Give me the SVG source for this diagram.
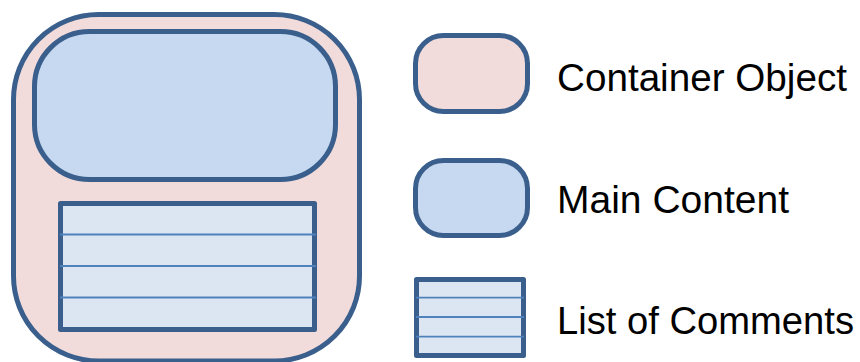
<svg xmlns="http://www.w3.org/2000/svg" width="860" height="362" viewBox="0 0 860 362">
<style>
.s{stroke:#3A5F8C;stroke-width:5;stroke-linejoin:round}
.c{fill:#F2DCDB}
.m{fill:#C6D9F1}
.l{fill:#DCE6F2}
.ln{stroke:#4F81BD;stroke-width:1.8}
.t{font-family:"Liberation Sans",Arial,sans-serif;font-size:38px;fill:#000}
</style>
<rect width="860" height="362" fill="#fff"/>
<g id="container">
<rect class="s c" x="13.5" y="14.5" width="346" height="346.5" rx="85" ry="85"/>
</g>
<g id="main-content">
<rect class="s m" x="34.5" y="31.5" width="301" height="148" rx="55" ry="55"/>
</g>
<g id="comments-list">
<rect class="s l" x="60.5" y="203.5" width="254" height="126"/>
<line class="ln" x1="60" y1="234.5" x2="316" y2="234.5"/>
<line class="ln" x1="60" y1="266" x2="316" y2="266"/>
<line class="ln" x1="60" y1="297.5" x2="316" y2="297.5"/>
</g>
<g id="legend-container">
<rect class="s c" x="415.5" y="35.5" width="112" height="76" rx="28" ry="28"/>
<text class="t" x="557" y="90.5" textLength="290" lengthAdjust="spacingAndGlyphs">Container Object</text>
</g>
<g id="legend-main">
<rect class="s m" x="415.5" y="160.5" width="112" height="75" rx="28" ry="28"/>
<text class="t" x="557" y="212.5" textLength="232" lengthAdjust="spacingAndGlyphs">Main Content</text>
</g>
<g id="legend-list">
<rect class="s l" x="416.5" y="279.5" width="107" height="76"/>
<line class="ln" x1="416" y1="297.7" x2="524" y2="297.7"/>
<line class="ln" x1="416" y1="317" x2="524" y2="317"/>
<line class="ln" x1="416" y1="336.7" x2="524" y2="336.7"/>
<text class="t" x="557" y="334" textLength="297" lengthAdjust="spacingAndGlyphs">List of Comments</text>
</g>
<g id="connectors"/>
</svg>
